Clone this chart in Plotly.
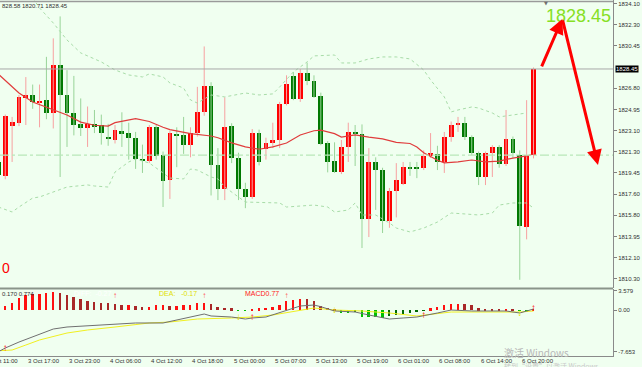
import plotly.graph_objects as go

# ---------------- data ----------------
bar_index = list(range(79))
opens = [1820.4, 1819.2, 1823.55, 1823.8, 1825.9, 1826.2, 1825.55, 1825.8, 1824.65, 1828.8,
         1826.2, 1824.65, 1823.7, 1823.35, 1823.7, 1823.6, 1822.6, 1822.3, 1823.05, 1822.9,
         1822.45, 1820.7, 1820.5, 1823.4, 1821.0, 1818.8, 1822.85, 1822.7, 1821.85, 1822.9,
         1824.7, 1827.0, 1820.1, 1818.1, 1823.5, 1820.75, 1818.05, 1817.4, 1822.9, 1821.5,
         1822.0, 1822.3, 1825.4, 1827.85, 1825.85, 1828.1, 1827.4, 1826.1, 1822.05, 1820.5,
         1819.55, 1821.7, 1823.0, 1822.8, 1815.45, 1820.4, 1819.7, 1815.3, 1817.9, 1818.45,
         1819.95, 1819.95, 1819.9, 1820.9, 1821.1, 1820.4, 1822.6, 1823.6, 1823.8, 1822.6,
         1821.2, 1819.1, 1821.2, 1821.7, 1820.2, 1822.4, 1821.0, 1814.75, 1821.0]
highs = [1820.8, 1824.5, 1824.3, 1826.2, 1827.75, 1827.1, 1827.1, 1829.5, 1831.1, 1833.0,
         1828.35, 1827.85, 1825.9, 1825.2, 1824.9, 1824.5, 1823.7, 1823.6, 1824.7, 1823.8,
         1823.0, 1821.9, 1823.6, 1823.6, 1821.3, 1823.1, 1823.4, 1824.3, 1823.4, 1826.9,
         1830.4, 1827.3, 1821.6, 1826.0, 1823.75, 1821.2, 1818.6, 1823.25, 1823.2, 1822.5,
         1823.8, 1825.6, 1827.9, 1828.2, 1828.45, 1829.0, 1827.9, 1826.4, 1822.2, 1822.1,
         1822.3, 1823.8, 1823.6, 1823.65, 1821.6, 1820.8, 1819.9, 1818.15, 1820.3, 1820.4,
         1820.4, 1820.4, 1821.4, 1822.9, 1821.8, 1823.0, 1823.9, 1824.3, 1824.3, 1822.7,
         1821.3, 1821.3, 1821.85, 1821.85, 1824.9, 1822.6, 1821.4, 1825.75, 1828.58]
lows = [1819.0, 1818.9, 1820.4, 1823.5, 1823.6, 1825.0, 1823.4, 1824.1, 1823.3, 1819.1,
        1821.7, 1822.7, 1822.65, 1821.7, 1822.9, 1821.9, 1821.8, 1822.0, 1821.7, 1820.6,
        1819.8, 1819.45, 1820.3, 1820.6, 1816.5, 1817.2, 1819.95, 1821.1, 1820.8, 1822.6,
        1824.4, 1817.5, 1817.1, 1817.1, 1820.3, 1817.1, 1816.4, 1817.2, 1820.1, 1820.6,
        1821.6, 1821.6, 1825.3, 1825.75, 1825.6, 1827.05, 1825.95, 1821.85, 1819.5, 1819.45,
        1819.35, 1820.4, 1820.05, 1812.95, 1813.9, 1816.25, 1814.25, 1814.7, 1815.6, 1818.4,
        1819.2, 1819.0, 1819.7, 1820.75, 1819.7, 1819.45, 1822.15, 1823.0, 1822.3, 1821.0,
        1818.4, 1818.4, 1819.1, 1819.9, 1820.05, 1820.75, 1810.2, 1813.7, 1820.71]
closes = [1819.3, 1824.4, 1823.85, 1826.0, 1826.2, 1825.6, 1825.7, 1824.6, 1828.8, 1826.2,
          1824.65, 1823.6, 1823.35, 1823.7, 1823.45, 1822.9, 1822.4, 1823.15, 1822.9, 1822.45,
          1820.65, 1820.5, 1823.4, 1820.9, 1818.75, 1822.9, 1822.7, 1821.85, 1822.9, 1824.7,
          1827.0, 1820.1, 1818.1, 1823.4, 1820.75, 1818.1, 1817.4, 1822.9, 1820.4, 1822.05,
          1822.3, 1825.4, 1827.15, 1825.85, 1828.1, 1827.4, 1826.0, 1821.95, 1820.4, 1819.5,
          1821.7, 1823.0, 1822.8, 1815.45, 1820.4, 1819.7, 1815.3, 1817.9, 1818.85, 1819.95,
          1819.85, 1819.8, 1820.9, 1821.2, 1820.4, 1822.6, 1823.6, 1823.8, 1822.6, 1821.2,
          1819.1, 1821.2, 1821.7, 1820.2, 1822.4, 1821.2, 1814.85, 1821.0, 1828.45]

ma_idx = [0, 3, 5, 8, 10, 12, 14, 16, 17, 20, 22, 24, 25, 28, 29, 31, 32, 34, 36, 38, 40, 42,
          44, 46, 47, 49, 50, 52, 54, 56, 58, 60, 61, 62, 64, 65, 67, 69, 71, 73, 75, 77, 78]
ma_val = [1828.0, 1826.37, 1825.59, 1824.95, 1824.47, 1823.85, 1823.58, 1823.5, 1823.8, 1824.15,
          1823.9, 1823.4, 1823.2, 1822.85, 1822.78, 1822.65, 1822.5, 1822.05, 1821.7, 1821.5,
          1821.7, 1822.04, 1822.74, 1823.1, 1823.15, 1822.85, 1822.56, 1822.74, 1822.55, 1822.4,
          1822.1, 1822.0, 1821.7, 1821.2, 1820.55, 1820.33, 1820.4, 1820.57, 1820.4, 1820.48,
          1820.74, 1820.92, 1821.09]

bb_up_idx = [5, 6, 8, 10, 12, 15, 17, 19, 21, 22, 24, 25, 27, 28, 29, 31, 33, 36, 38, 40, 41,
             43, 45, 46, 49, 50, 52, 54, 56, 58, 60, 62, 63, 65, 66, 67, 69, 70, 72, 73, 75, 77]
bb_up_val = [1834.6, 1833.73, 1832.43, 1830.96, 1829.84, 1829.06, 1828.36, 1827.93, 1827.76,
             1828.02, 1827.76, 1827.24, 1826.8, 1825.77, 1825.5, 1826.2, 1826.03, 1826.37,
             1826.2, 1826.29, 1826.89, 1828.19, 1829.06, 1829.58, 1829.66, 1828.97, 1828.97,
             1829.32, 1829.49, 1829.49, 1829.32, 1828.36, 1827.5, 1826.03, 1824.73, 1824.9,
             1825.16, 1825.07, 1824.64, 1824.3, 1824.47, 1824.64]

bb_lo_idx = [0, 2, 3, 5, 6, 9, 10, 13, 14, 16, 17, 19, 20, 22, 23, 25, 27, 28, 29, 31, 32, 33,
             36, 41, 42, 44, 46, 48, 49, 51, 52, 53, 55, 57, 58, 60, 62, 64, 66, 68, 70, 72,
             73, 75, 77, 78]
bb_lo_val = [1816.5, 1816.07, 1816.5, 1817.28, 1817.37, 1817.97, 1818.23, 1818.41, 1818.32,
             1818.23, 1819.53, 1820.4, 1820.66, 1820.31, 1819.88, 1819.01, 1818.93, 1819.79,
             1819.7, 1819.1, 1818.93, 1818.23, 1816.93, 1816.85, 1816.5, 1816.59, 1816.67,
             1816.5, 1816.07, 1816.24, 1816.85, 1815.81, 1815.81, 1815.12, 1814.68, 1814.34,
             1814.68, 1815.2, 1815.98, 1815.9, 1815.81, 1815.98, 1816.67, 1816.85, 1816.85,
             1816.41]

price_ticks = [1834.10, 1832.30, 1830.45, 1826.80, 1824.95, 1823.10, 1821.30, 1819.45,
               1817.60, 1815.80, 1813.95, 1812.10, 1810.30]
last_price = 1828.45
pivot_level = 1821.0
header_text = "828.58 1820.71 1828.45"

time_idx = [-2, 4, 10, 16, 22, 28, 34, 40, 46, 52, 58, 64, 70, 76]
time_labels = ["3 Oct 11:00", "3 Oct 17:00", "3 Oct 23:00", "4 Oct 06:00", "4 Oct 12:00",
               "4 Oct 18:00", "5 Oct 00:00", "5 Oct 07:00", "5 Oct 13:00", "5 Oct 19:00",
               "6 Oct 01:00", "6 Oct 08:00", "6 Oct 14:00", "6 Oct 20:00"]

macd_hist = [0.5, 0.74, 1.35, 2.15, 2.76, 2.95, 2.95, 3.07, 3.25, 3.19,
             2.76, 2.33, 1.96, 1.72, 1.53, 1.35, 1.23, 1.1, 0.92, 0.92,
             0.74, 0.49, 0.61, 0.86, 0.86, 0.74, 0.74, 0.86, 0.92, 1.23,
             1.35, 1.1, 0.61, 0.37, 0.31, -0.1, -0.1, 0.1, 0.31, 0.43,
             0.61, 0.92, 1.72, 1.84, 2.0, 1.96, 1.72, 0.7, 0.4, 0.1,
             -0.5, -0.5, -0.45, -1.2, -1.2, -1.3, -1.5, -1.1, -0.95, -0.8,
             -0.5, -0.3, -0.1, 0.3, 0.55, 0.9, 1.2, 1.2, 1.1, 0.9,
             0.3, 0.25, 0.2, 0.15, 0.2, 0.1, -0.1, -0.3, 0.2]
diff_idx = [0, 1, 3, 5, 8, 10, 15, 20, 24, 26, 30, 31, 34, 36, 37, 39, 42, 44, 46, 47, 49, 52,
            54, 57, 59, 61, 64, 66, 69, 71, 74, 76, 78]
diff_val = [-7.68, -7.0, -5.9, -4.97, -3.5, -3.13, -2.76, -2.39, -2.39, -1.84, -0.74, -1.1,
            -1.29, -1.66, -1.47, -1.29, 0.0, 0.74, 0.92, 0.61, -0.18, -0.37, -0.92, -1.66,
            -1.47, -1.29, -0.55, 0.0, -0.18, -0.18, -0.18, -0.55, 0.18]
dea_idx = [0, 2, 4, 6, 10, 13, 17, 22, 25, 29, 34, 37, 40, 44, 46, 49, 53, 57, 61, 66, 71, 76, 78]
dea_val = [-7.5, -7.37, -6.45, -5.52, -4.24, -3.68, -3.13, -2.39, -2.21, -1.66, -1.47, -1.29,
           -0.92, 0.0, 0.37, 0.0, -0.18, -0.55, -1.1, -0.37, -0.37, -0.37, -0.18]
macd_ticks = [3.579, 0.0, -7.653]
buy_idx = [1, 37, 62, 78]
buy_val = [-7.0, -1.29, -1.1, 0.37]
sell_idx = [35, 49, 76]
sell_val = [-1.29, -0.13, -0.55]
flag_idx = [17, 30, 42]
flag_val = [2.6, 2.6, 2.6]
forecast_idx = [79.1, 82.2, 87.4]
forecast_px = [1828.54, 1832.78, 1820.14]

# ---------------- geometry / style ----------------
XMIN, XMAX = 0.233, 89.59
BG = "#f0fff0"
UP = "#ff0000"
DOWN = "#007800"
UP_WICK = "#f7a0a0"
DOWN_WICK = "#98d498"
PLOT_H = 356.0
PLOT_W = 613.0


def py(pix):  # pixel from top of plot -> paper y
    return (PLOT_H - pix) / PLOT_H


def px(pix):
    return pix / PLOT_W


fig = go.Figure()

# wicks
uw_x, uw_y, dw_x, dw_y = [], [], [], []
for i, o, h, l, c in zip(bar_index, opens, highs, lows, closes):
    if c >= o:
        uw_x += [i, i, None]; uw_y += [l, h, None]
    else:
        dw_x += [i, i, None]; dw_y += [l, h, None]
fig.add_trace(go.Scatter(x=uw_x, y=uw_y, mode="lines", line=dict(color=UP_WICK, width=1),
                         hoverinfo="skip", showlegend=False))
fig.add_trace(go.Scatter(x=dw_x, y=dw_y, mode="lines", line=dict(color=DOWN_WICK, width=1),
                         hoverinfo="skip", showlegend=False))

# bands & MA
fig.add_trace(go.Scatter(x=bb_up_idx, y=bb_up_val, mode="lines",
                         line=dict(color="#a8dca8", width=1, dash="dot"), showlegend=False))
fig.add_trace(go.Scatter(x=bb_lo_idx, y=bb_lo_val, mode="lines",
                         line=dict(color="#a8dca8", width=1, dash="dot"), showlegend=False))
fig.add_trace(go.Scatter(x=ma_idx, y=ma_val, mode="lines",
                         line=dict(color="#e03c3c", width=1.2), showlegend=False))

# bodies
body_base, body_h, body_col = [], [], []
for o, c in zip(opens, closes):
    body_base.append(min(o, c))
    body_h.append(abs(c - o))
    body_col.append(UP if c >= o else DOWN)
fig.add_trace(go.Bar(x=bar_index, y=body_h, base=body_base, width=0.7,
                     marker=dict(color=body_col, line=dict(width=0)), showlegend=False))

# MACD histogram
hist_col = []
prev = 0
for v in macd_hist:
    if v >= 0:
        hist_col.append("#ff1010" if v >= prev else "#a82828")
    else:
        hist_col.append("#00c000" if v <= prev else "#006a00")
    prev = v
fig.add_trace(go.Bar(x=bar_index, y=macd_hist, width=0.28, xaxis="x", yaxis="y2",
                     marker=dict(color=hist_col, line=dict(width=0)), showlegend=False))
fig.add_trace(go.Scatter(x=dea_idx, y=dea_val, mode="lines", yaxis="y2",
                         line=dict(color="#f0f020", width=1), showlegend=False))
fig.add_trace(go.Scatter(x=diff_idx, y=diff_val, mode="lines", yaxis="y2",
                         line=dict(color="#707070", width=1), showlegend=False))
fig.add_trace(go.Scatter(x=buy_idx, y=buy_val, mode="text", yaxis="y2", text=["<b>↑</b>"] * len(buy_idx),
                         textfont=dict(color="#ff0000", size=10), showlegend=False))
fig.add_trace(go.Scatter(x=sell_idx, y=sell_val, mode="text", yaxis="y2", text=["<b>↓</b>"] * len(sell_idx),
                         textfont=dict(color="#e8e800", size=10), showlegend=False))
fig.add_trace(go.Scatter(x=flag_idx, y=flag_val, mode="text", yaxis="y2", text=["↑"] * len(flag_idx),
                         textfont=dict(color="#ff5050", size=8), showlegend=False))

shapes = [
    dict(type="line", xref="paper", x0=0, x1=1, yref="y", y0=last_price, y1=last_price,
         line=dict(color="#a8a8a8", width=1)),
    dict(type="line", xref="paper", x0=0, x1=1, yref="y", y0=pivot_level, y1=pivot_level,
         line=dict(color="#b8e8b8", width=1.2, dash="dashdot")),
    dict(type="line", xref="paper", x0=0, x1=1, yref="paper", y0=py(288.5), y1=py(288.5),
         line=dict(color="#8a948a", width=2)),
    dict(type="line", xref="paper", x0=0, x1=1, yref="paper", y0=py(1.5), y1=py(1.5),
         line=dict(color="#9a9a9a", width=1.5)),
]

small = dict(family="Liberation Sans, Arial, sans-serif", size=6, color="#303030")
ann = []
for idx, lab in zip(time_idx, time_labels):
    ann.append(dict(text=lab, xref="paper", x=(idx - XMIN) / (XMAX - XMIN), xanchor="left",
                    yref="paper", y=py(361), yanchor="middle", showarrow=False, font=small))
ann.append(dict(text=header_text, xref="paper", x=0, xanchor="left", yref="paper", y=py(6),
                yanchor="middle", showarrow=False, font=small))
ann.append(dict(text=f"{last_price:.2f}", xref="paper", x=1, xshift=2, xanchor="left", yref="y",
                y=last_price, yanchor="middle", showarrow=False, bgcolor="#000000", borderpad=0,
                font=dict(family="Liberation Sans, Arial, sans-serif", size=6, color="#ffffff")))
ann.append(dict(text=f"{last_price:.2f}", xref="paper", x=1, xanchor="right", yref="paper",
                y=py(16), yanchor="middle", showarrow=False,
                font=dict(family="Liberation Sans, Arial, sans-serif", size=18, color="#86e024")))
ann.append(dict(text="0", xref="paper", x=0, xanchor="left", yref="paper", y=py(267.5),
                yanchor="middle", showarrow=False,
                font=dict(family="Liberation Sans, Arial, sans-serif", size=14, color="#ff0000")))
ann.append(dict(text="▼", xref="paper", x=px(546), xanchor="center", yref="paper", y=py(3),
                yanchor="middle", showarrow=False,
                font=dict(family="DejaVu Sans", size=5, color="#707070")))
# forecast arrows
for k in range(2):
    ann.append(dict(x=forecast_idx[k + 1], y=forecast_px[k + 1], xref="x", yref="y",
                    ax=forecast_idx[k], ay=forecast_px[k], axref="x", ayref="y",
                    showarrow=True, arrowhead=2, arrowsize=1, arrowwidth=3, arrowcolor="#ff0000",
                    text=""))
# MACD labels
mfont = dict(family="Liberation Sans, Arial, sans-serif", size=7)
ann.append(dict(text="0.170 0.774", xref="paper", x=0, xanchor="left", yref="paper", y=py(293.5),
                yanchor="middle", showarrow=False, font=small))
ann.append(dict(text="DIFF:  -0.27", xref="paper", x=px(72), xanchor="left", yref="paper",
                y=py(293.5), yanchor="middle", showarrow=False, font=dict(mfont, color="#ffffff")))
ann.append(dict(text="DEA:   -0.17", xref="paper", x=px(157), xanchor="left", yref="paper",
                y=py(293.5), yanchor="middle", showarrow=False, font=dict(mfont, color="#e0e000")))
ann.append(dict(text="MACD0.77", xref="paper", x=px(243), xanchor="left", yref="paper",
                y=py(293.5), yanchor="middle", showarrow=False, font=dict(mfont, color="#ff2020")))
# watermark
ann.append(dict(text="激活 Windows", xref="paper", x=px(502), xanchor="left", yref="paper",
                y=py(352.5), yanchor="middle", showarrow=False,
                font=dict(family="Noto Sans CJK SC", size=10, color="#b8b8b8")))
ann.append(dict(text="转到“设置”以激活 Windows。", xref="paper", x=px(502), xanchor="left", yref="paper",
                y=py(365.5), yanchor="middle", showarrow=False,
                font=dict(family="Noto Sans CJK SC", size=7, color="#c8c8c8")))

fig.update_layout(
    width=642, height=367,
    margin=dict(l=0, r=29, t=0, b=11),
    paper_bgcolor=BG, plot_bgcolor=BG,
    barmode="overlay", bargap=0, showlegend=False,
    xaxis=dict(range=[XMIN, XMAX], anchor="y2", showgrid=False, zeroline=False,
               showticklabels=False, ticks="", showline=True, linecolor="#8a8a8a", linewidth=1),
    yaxis=dict(domain=[py(288), 1], range=[1809.49, 1834.42], side="right", showgrid=False,
               zeroline=False, tickvals=price_ticks, ticktext=[f"{v:.2f}" for v in price_ticks],
               ticks="outside", ticklen=3, tickcolor="#808080", tickfont=small,
               showline=True, linecolor="#8a8a8a", linewidth=1),
    yaxis2=dict(domain=[0, py(289)], range=[-8.47, 3.87], side="right", showgrid=False,
                zeroline=False, tickvals=macd_ticks, ticktext=["3.579", "0.00", "-7.653"],
                ticks="outside", ticklen=3, tickcolor="#808080", tickfont=small,
                showline=True, linecolor="#8a8a8a", linewidth=1),
    shapes=shapes, annotations=ann,
)

fig.write_html("out.html", config={"displayModeBar": False},
               post_script="document.body.style.margin='0';document.body.style.background='#f0fff0';")
